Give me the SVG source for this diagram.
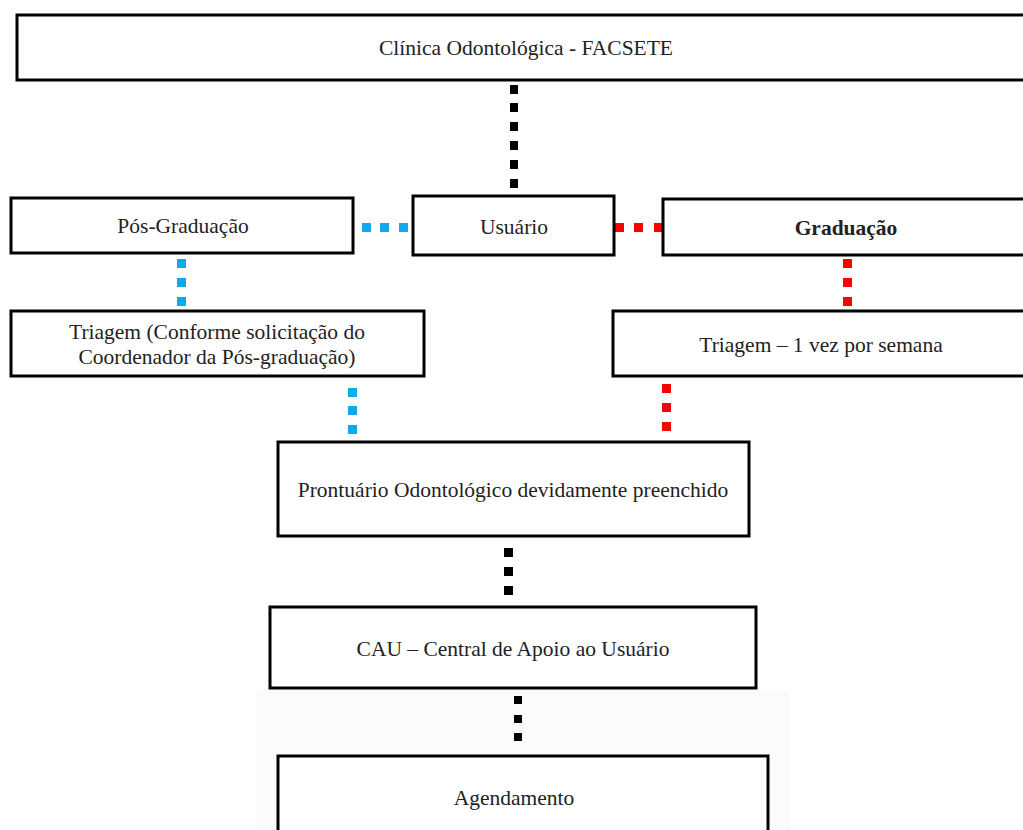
<svg xmlns="http://www.w3.org/2000/svg" width="1023" height="830" viewBox="0 0 1023 830">
<style>
.box{fill:#fff;stroke:#000;stroke-width:3}
.t{font-family:"Liberation Serif","Times New Roman",serif;font-size:21.5px;fill:#222;text-anchor:middle;dominant-baseline:central}
.k{fill:#000}.b{fill:#12A9E8}.r{fill:#F00}
</style>
<rect width="1023" height="830" fill="#fff"/>
<rect x="256" y="690" width="534" height="140" fill="#fbfbfb"/>
<g id="connectors">
<g class="k">
<rect x="510" y="85" width="8" height="9"/><rect x="510" y="103" width="8" height="9"/><rect x="510" y="122" width="8" height="9"/><rect x="510" y="141" width="8" height="9"/><rect x="510" y="160" width="8" height="9"/><rect x="510" y="179" width="8" height="9"/>
<rect x="504" y="548" width="9" height="9"/><rect x="504" y="567" width="9" height="9"/><rect x="504" y="586" width="9" height="9"/>
<rect x="514" y="696" width="8" height="8"/><rect x="514" y="715" width="8" height="8"/><rect x="514" y="733" width="8" height="8"/>
</g>
<g class="b">
<rect x="362" y="223" width="9" height="9"/><rect x="380" y="223" width="9" height="9"/><rect x="399" y="223" width="9" height="9"/>
<rect x="177" y="259" width="9" height="9"/><rect x="177" y="278" width="9" height="9"/><rect x="177" y="297" width="9" height="9"/>
<rect x="348" y="388" width="9" height="9"/><rect x="348" y="406" width="9" height="9"/><rect x="348" y="425" width="9" height="9"/>
</g>
<g class="r">
<rect x="615" y="223" width="9" height="9"/><rect x="634" y="223" width="9" height="9"/><rect x="654" y="223" width="9" height="9"/>
<rect x="843" y="259" width="9" height="9"/><rect x="843" y="278" width="9" height="9"/><rect x="843" y="297" width="9" height="9"/>
<rect x="662" y="384" width="9" height="9"/><rect x="662" y="403" width="9" height="9"/><rect x="662" y="422" width="9" height="9"/>
</g>
</g>
<g id="clinica"><rect class="box" x="17" y="15" width="1020" height="65"/><text class="t" x="526" y="48">Clínica Odontológica - FACSETE</text></g>
<g id="pos"><rect class="box" x="11" y="198" width="342" height="55"/><text class="t" x="183" y="226">Pós-Graduação</text></g>
<g id="usuario"><rect class="box" x="413" y="196" width="201" height="59"/><text class="t" x="514" y="227">Usuário</text></g>
<g id="graduacao"><rect class="box" x="663" y="199" width="370" height="56"/><text class="t" x="846" y="228" font-weight="bold">Graduação</text></g>
<g id="triagem-pos"><rect class="box" x="11" y="311" width="413" height="65"/><text class="t" x="217" y="332">Triagem (Conforme solicitação do</text><text class="t" x="217" y="357">Coordenador da Pós-graduação)</text></g>
<g id="triagem-grad"><rect class="box" x="613" y="311" width="420" height="65"/><text class="t" x="821" y="345">Triagem – 1 vez por semana</text></g>
<g id="prontuario"><rect class="box" x="278" y="442" width="471" height="94"/><text class="t" x="513" y="490">Prontuário Odontológico devidamente preenchido</text></g>
<g id="cau"><rect class="box" x="270" y="607" width="486" height="81"/><text class="t" x="513" y="649">CAU – Central de Apoio ao Usuário</text></g>
<g id="agendamento"><rect class="box" x="278" y="756" width="490" height="90"/><text class="t" x="514" y="798">Agendamento</text></g>
</svg>
